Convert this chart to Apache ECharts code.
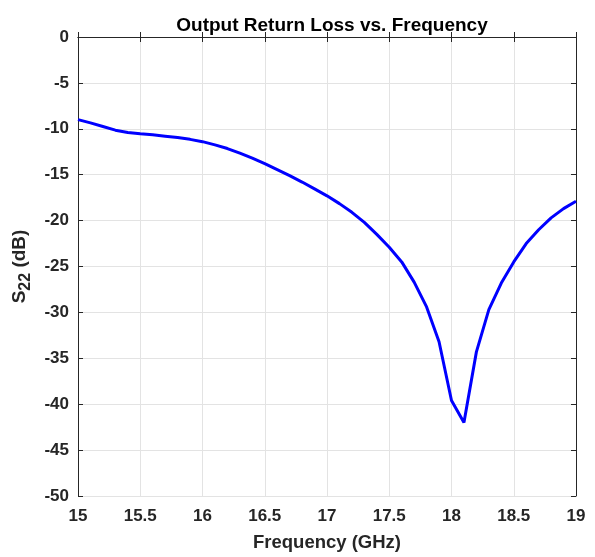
<!DOCTYPE html>
<html>
<head>
<meta charset="utf-8">
<script src="https://cdn.jsdelivr.net/npm/echarts@6/dist/echarts.min.js"></script>
<style>
  html, body { margin: 0; padding: 0; background: #fff; }
  #chart { width: 595px; height: 557px; }
</style>
</head>
<body>
<div id="chart"></div>
<script>
// Output return loss S22 (dB) sampled every 0.1 GHz
const freqGHz = [15.0, 15.1, 15.2, 15.3, 15.4, 15.5, 15.6, 15.7, 15.8, 15.9,
                 16.0, 16.1, 16.2, 16.3, 16.4, 16.5, 16.6, 16.7, 16.8, 16.9,
                 17.0, 17.1, 17.2, 17.3, 17.4, 17.5, 17.6, 17.7, 17.8, 17.9,
                 18.0, 18.1, 18.2, 18.3, 18.4, 18.5, 18.6, 18.7, 18.8, 18.9, 19.0];
const s22dB = [-9.0, -9.35, -9.75, -10.15, -10.4, -10.55, -10.65, -10.8, -10.95, -11.15,
               -11.4, -11.75, -12.15, -12.65, -13.2, -13.8, -14.45, -15.1, -15.8, -16.55,
               -17.3, -18.15, -19.1, -20.2, -21.5, -22.9, -24.5, -26.7, -29.4, -33.2,
               -39.6, -42.0, -34.3, -29.7, -26.8, -24.5, -22.5, -21.0, -19.7, -18.7, -17.9];
const xTicks = [15, 15.5, 16, 16.5, 17, 17.5, 18, 18.5, 19];
const yTicks = [0, -5, -10, -15, -20, -25, -30, -35, -40, -45, -50];

const FONT = 'Liberation Sans';
const INK = '#262626';
const chart = echarts.init(document.getElementById('chart'), null, { renderer: 'canvas' });

const pairs = freqGHz.map((f, i) => [f, s22dB[i]]);

// top/right axes only close the box and carry inward ticks
const boxAxis = {
  axisLine: { show: true, lineStyle: { color: INK, width: 1 } },
  axisTick: { show: true, inside: true, length: 5, lineStyle: { color: INK } },
  splitLine: { show: false },
  axisLabel: { show: false }
};

chart.setOption({
  animation: false,
  backgroundColor: '#ffffff',
  title: {
    text: 'Output Return Loss vs. Frequency',
    left: 327, top: 11, textAlign: 'center',
    textStyle: { fontFamily: FONT, fontWeight: 'bold', fontSize: 19, color: '#000' }
  },
  grid: { left: 78, right: 19, top: 37, bottom: 58, containLabel: false },
  xAxis: [
    {
      type: 'value', min: 15, max: 19, interval: 0.5, position: 'bottom',
      name: 'Frequency (GHz)', nameLocation: 'middle', nameGap: 37,
      nameTextStyle: { fontFamily: FONT, fontWeight: 'bold', fontSize: 18.5, color: INK },
      axisLine: { show: true, lineStyle: { color: INK, width: 1 } },
      axisTick: { show: true, inside: true, length: 5, lineStyle: { color: INK } },
      axisLabel: {
        fontFamily: FONT, fontWeight: 'bold', fontSize: 17, color: INK, margin: 12,
        formatter: v => xTicks.includes(v) ? String(v) : ''
      },
      splitLine: { show: true, lineStyle: { color: '#e3e3e3', width: 1 } }
    },
    Object.assign({ type: 'value', min: 15, max: 19, interval: 0.5, position: 'top' }, boxAxis)
  ],
  yAxis: [
    {
      type: 'value', min: -50, max: 0, interval: 5, position: 'left',
      name: '{m|S}{sub|22}{m| (dB)}', nameLocation: 'middle', nameGap: 44, nameRotate: 90,
      nameTextStyle: {
        fontFamily: FONT, fontWeight: 'bold', color: INK,
        rich: {
          m: { fontFamily: FONT, fontWeight: 'bold', fontSize: 19, color: INK },
          sub: { fontFamily: FONT, fontWeight: 'bold', fontSize: 16, color: INK, verticalAlign: 'bottom', padding: [12, 0, 0, 0] }
        }
      },
      axisLine: { show: true, lineStyle: { color: INK, width: 1 } },
      axisTick: { show: true, inside: true, length: 5, lineStyle: { color: INK } },
      axisLabel: {
        fontFamily: FONT, fontWeight: 'bold', fontSize: 17, color: INK, margin: 9,
        formatter: v => yTicks.includes(v) ? String(v) : ''
      },
      splitLine: { show: true, lineStyle: { color: '#e3e3e3', width: 1 } }
    },
    Object.assign({ type: 'value', min: -50, max: 0, interval: 5, position: 'right' }, boxAxis)
  ],
  series: [{
    type: 'line',
    data: pairs,
    xAxisIndex: 0, yAxisIndex: 0,
    showSymbol: false,
    lineStyle: { color: '#0000ff', width: 3 },
    smooth: false
  }]
});
</script>
</body>
</html>
